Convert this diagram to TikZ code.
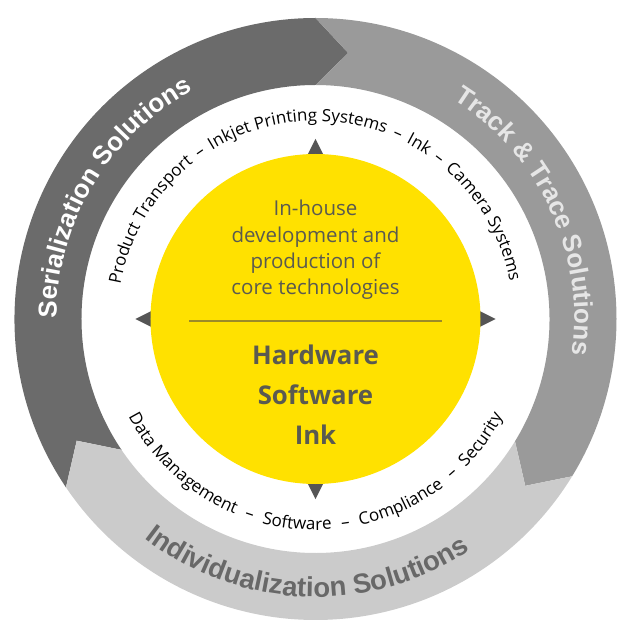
\documentclass[tikz,border=0pt]{standalone}
\usepackage{fontspec}
\setmainfont{Open Sans}
\newfontfamily\ringfont{Liberation Sans}
\usetikzlibrary{decorations.text}
\definecolor{serialgray}{HTML}{6B6B6B}
\definecolor{tracegray}{HTML}{9A9A9A}
\definecolor{indivgray}{HTML}{CBCBCB}
\definecolor{coreyellow}{HTML}{FFE100}
\definecolor{coretext}{HTML}{5A5A50}
\definecolor{coreline}{HTML}{9C8A28}
\definecolor{pointgray}{HTML}{555555}
\definecolor{tracetext}{HTML}{E6E6E6}
\definecolor{indivtext}{HTML}{686868}
\def\ringseg[#1](#2:#3){\fill[#1] (#2:301) arc (#2:#3:301) -- (#3-7:268) -- (#3:234) arc (#3:#2:234) -- (#2-7:268) -- cycle;}
\def\ringlabel[#1](#2:#3:#4)#5#6{\path[decorate,decoration={text along path,text={|\ringfont\bfseries\fontsize{#5}{30}\selectfont|#6},text align=center,text color=#1}] (#2:#4) arc (#2:#3:#4);}
\def\techlabel(#1:#2:#3)#4{\path[decorate,decoration={text along path,text={|\fontsize{17}{20}\selectfont|#4},text align={fit to path stretching spaces},text color=black}] (#1:#3) arc (#1:#2:#3);}

\begin{document}
\begin{tikzpicture}[x=1pt,y=1pt]
	%%%%% START %%%%%
	\useasboundingbox (-315.5,-318) rectangle (321.5,319);
	
	\ringseg[serialgray](214:90)
	\ringseg[tracegray](90:-31.5)
	\ringseg[indivgray](-31.5:-146)
	
	\ringlabel[white](209:89:259){26}{Serialization Solutions}
	\ringlabel[tracetext](85:-35:259){26}{Track {\&} Trace Solutions}
	\ringlabel[indivtext](208:328:278){27.5}{Individualization Solutions}
	
	\techlabel(170:11:198){Product{\ }Transport – Inkjet{\ }Printing{\ }Systems – Ink – Camera{\ }Systems}
	\techlabel(207.5:332.5:211){Data{\ }Management – Software – Compliance – Security}
	
	\foreach \a in {0,90,180,270}
		\fill[pointgray,rotate=\a] (180,0) -- (160,10) -- (160,-10) -- cycle;
	\fill[coreyellow] (0,0) circle (165);
	
	\node[align=center, text=coretext, font=\fontsize{20.5}{26.3}\selectfont] (inhouse) at (0,69) {In-house\\development and\\production of\\core technologies};
	\draw[coreline, line width=1.2] (-126,-2) -- (126,-2);
	\node[align=center, text=coretext, font=\bfseries\fontsize{25.8}{40}\selectfont] (hsi) at (0,-76) {Hardware\\Software\\Ink};
	%%%%% END %%%%%
\end{tikzpicture}
\end{document}
